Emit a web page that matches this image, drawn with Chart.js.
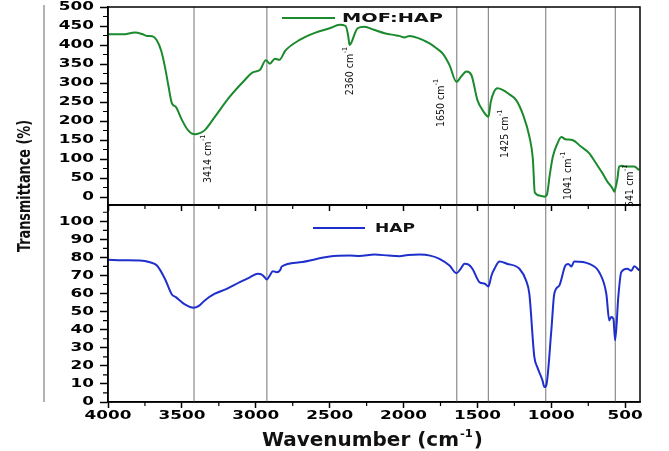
<!DOCTYPE html>
<html>
<head>
<meta charset="utf-8">
<script src="https://cdn.jsdelivr.net/npm/chart.js@4.4.0/dist/chart.umd.min.js"></script>
<style>
html, body { margin: 0; padding: 0; background: #fff; }
#wrap { position: relative; width: 669px; height: 451px; }
#wrap canvas { position: absolute; left: 0; top: 0; }
</style>
</head>
<body>
<div id="wrap">
<canvas id="topChart" width="669" height="451"></canvas>
<canvas id="botChart" width="669" height="451"></canvas>
</div>
<script>
// MOF:HAP spectrum (top panel)
const mofWn = [4000, 3900, 3818, 3770, 3736, 3700, 3669, 3640, 3615, 3590, 3568, 3541, 3500, 3459, 3412, 3380, 3345, 3277, 3176, 3074,
  3020, 2973, 2932, 2905, 2870, 2840, 2800, 2700, 2600, 2500, 2432, 2392, 2375, 2365, 2350, 2330, 2311, 2264, 2200, 2128,
  2060, 2030, 1993, 1960, 1900, 1824, 1780, 1736, 1689, 1642, 1610, 1574, 1541, 1500, 1466, 1440, 1426, 1410, 1390, 1365,
  1330, 1284, 1238, 1190, 1149, 1125, 1112, 1070, 1047, 1030, 1010, 990, 960, 932, 905, 858, 800, 743, 700, 655,
  620, 600, 585, 574, 565, 554, 541, 520, 500, 473, 440, 405];
const mofT = [428, 428, 433, 429, 424, 423, 412, 385, 343, 290, 247, 237, 203, 176, 165, 168, 176, 211, 264, 308,
  328, 334, 360, 351, 364, 361, 385, 414, 432, 444, 453, 450, 425, 400, 409, 430, 444, 448, 440, 431,
  426, 424, 420, 424, 418, 404, 392, 378, 347, 303, 317, 330, 321, 255, 229, 215, 211, 250, 275, 286,
  282, 270, 255, 215, 160, 100, 12, 3, 1, 6, 60, 106, 140, 158, 152, 150, 133, 115, 90, 63,
  40, 30, 22, 14, 25, 45, 80, 82, 80, 80, 80, 71];

// HAP spectrum (bottom panel)
const hapWn = [4000, 3900, 3784, 3716, 3669, 3615, 3568, 3541, 3480, 3419, 3380, 3345, 3277, 3200, 3108, 3040, 2986, 2960, 2940, 2926,
  2905, 2885, 2858, 2835, 2824, 2703, 2500, 2365, 2300, 2196, 2100, 2027, 1970, 1892, 1820, 1757, 1689, 1642, 1615, 1588,
  1560, 1534, 1486, 1450, 1426, 1405, 1385, 1351, 1300, 1216, 1170, 1149, 1115, 1095, 1060, 1047, 1035, 1000, 980, 946,
  905, 885, 865, 845, 743, 676, 628, 608, 595, 580, 568, 547, 527, 486, 459, 439, 405];
const hapT = [78.7, 78.4, 78.3, 77.3, 75.5, 68.2, 59.5, 58, 54, 52.1, 53.5, 56.2, 59.9, 62.5, 66.3, 69, 70.9, 70.5, 69, 67.8,
  70, 72.4, 71.8, 73, 75, 77.3, 80.5, 81, 80.8, 81.6, 81, 80.7, 81.3, 81.6, 81, 79.2, 75.5, 71.3, 73.5, 76.5,
  76, 73.7, 66.3, 65.4, 63.9, 70, 73.7, 77.7, 76.5, 73.7, 67, 59.9, 24.9, 19.3, 12, 8.3, 9, 39.6, 59.9, 64.5,
  75.5, 76.4, 75, 77.7, 76.4, 71.8, 59.9, 45.1, 47, 46, 34.1, 58, 71.8, 73.7, 72.6, 75.1, 72.8];

// tick labels
const xTickVals = [4000, 3500, 3000, 2500, 2000, 1500, 1000, 500];
const yTopTicks = [0, 50, 100, 150, 200, 250, 300, 350, 400, 450, 500];
const yBotTicks = [0, 10, 20, 30, 40, 50, 60, 70, 80, 90, 100];

// reference lines and peak labels
const peakLines = [3418, 2925, 1640, 1426, 1038, 567];
const peakNames = ['3414', '2360', '1650', '1425', '1041', '541'];
const peakSpots = [[3323, 37], [2363, 268], [1747, 184], [1314, 103], [888, -8], [468, -26]];

const GREEN = '#1a8a2c';
const BLUE = '#1e2fcc';
const SX = 1.35;
const LABEL_FONT = 'bold 12.5px "DejaVu Sans"';

function pts(xs, ys) {
  return xs.map((x, i) => ({x: x, y: ys[i]}));
}

function wideText(ctx, text, x, y, sx) {
  ctx.save();
  ctx.translate(x, y);
  ctx.scale(sx, 1);
  ctx.fillText(text, 0, 0);
  ctx.restore();
}

function fitText(ctx, text, x, y, width) {
  const w = ctx.measureText(text).width;
  wideText(ctx, text, x, y, width / w);
}

function makeFrame(cfg) {
  return {
    id: 'frame',
    beforeDatasetsDraw(chart) {
      const ctx = chart.ctx, a = chart.chartArea, x = chart.scales.x;
      ctx.save();
      ctx.strokeStyle = '#8c8c8c';
      ctx.lineWidth = 1.2;
      peakLines.forEach(w => {
        const px = x.getPixelForValue(w);
        ctx.beginPath();
        ctx.moveTo(px, a.top);
        ctx.lineTo(px, a.bottom);
        ctx.stroke();
      });
      ctx.restore();
    },
    afterDraw(chart) {
      const ctx = chart.ctx, a = chart.chartArea, x = chart.scales.x, y = chart.scales.y;
      ctx.save();
      ctx.strokeStyle = '#000';
      ctx.lineWidth = 1.5;
      ctx.strokeRect(a.left, a.top, a.right - a.left, a.bottom - a.top);

      // minor ticks
      ctx.lineWidth = 1.2;
      ctx.beginPath();
      for (let v = 750; v < 4000; v += 500) {
        const px = x.getPixelForValue(v);
        ctx.moveTo(px, a.bottom);
        ctx.lineTo(px, a.bottom + 4);
      }
      for (let v = cfg.yMinor[0]; v < cfg.yMinor[1]; v += cfg.yMinor[2]) {
        const py = y.getPixelForValue(v);
        ctx.moveTo(a.left, py);
        ctx.lineTo(a.left - 5, py);
      }
      ctx.stroke();

      // tick labels
      ctx.fillStyle = '#000';
      ctx.font = LABEL_FONT;
      ctx.textBaseline = 'middle';
      y.ticks.forEach(t => {
        const txt = String(t.value);
        const w = ctx.measureText(txt).width * SX;
        wideText(ctx, txt, a.left - 14 - w, y.getPixelForValue(t.value), SX);
      });
      if (cfg.xLabels) {
        x.ticks.forEach(t => {
          const txt = String(t.value);
          const w = ctx.measureText(txt).width * SX;
          wideText(ctx, txt, x.getPixelForValue(t.value) - w / 2, a.bottom + 14, SX);
        });
      }
      if (cfg.extra) cfg.extra(chart);
      ctx.restore();
    }
  };
}

function baseScales(yMin, yMax, yTicks, xHeight) {
  return {
    x: {
      type: 'linear', min: 400, max: 4000, reverse: true,
      ticks: {display: false},
      afterBuildTicks: s => { s.ticks = xTickVals.map(v => ({value: v})); },
      grid: {drawOnChartArea: false, tickLength: 6, tickColor: '#000', tickWidth: 1.5},
      border: {display: true, color: '#000', width: 1.5},
      afterFit: s => { s.height = xHeight; }
    },
    y: {
      min: yMin, max: yMax,
      ticks: {display: false},
      afterBuildTicks: s => { s.ticks = yTicks.map(v => ({value: v})); },
      grid: {drawOnChartArea: false, tickLength: 8, tickColor: '#000', tickWidth: 1.5},
      border: {display: true, color: '#000', width: 1.5},
      afterFit: s => { s.width = 108; }
    }
  };
}

function drawPeaks(chart) {
  const ctx = chart.ctx, x = chart.scales.x, y = chart.scales.y;
  ctx.fillStyle = '#111';
  peakNames.forEach((name, i) => {
    const px = x.getPixelForValue(peakSpots[i][0]);
    const py = y.getPixelForValue(peakSpots[i][1]);
    ctx.save();
    ctx.translate(px, py);
    ctx.rotate(-Math.PI / 2);
    ctx.textBaseline = 'middle';
    ctx.font = '10.5px "Liberation Sans Narrow", "DejaVu Sans Condensed", sans-serif';
    const txt = name + ' cm';
    ctx.fillText(txt, 0, 0);
    const w = ctx.measureText(txt).width;
    ctx.font = '7px "Liberation Sans Narrow", "DejaVu Sans Condensed", sans-serif';
    ctx.fillText('-1', w + 0.5, -5);
    ctx.restore();
  });

  // legend
  ctx.strokeStyle = GREEN;
  ctx.lineWidth = 2;
  ctx.beginPath();
  ctx.moveTo(282, 18);
  ctx.lineTo(335, 18);
  ctx.stroke();
  ctx.fillStyle = '#111';
  ctx.font = 'bold 13px "DejaVu Sans"';
  ctx.textBaseline = 'middle';
  fitText(ctx, 'MOF:HAP', 342, 18.5, 101);
}

function drawBottomExtras(chart) {
  const ctx = chart.ctx;
  // legend
  ctx.strokeStyle = BLUE;
  ctx.lineWidth = 2;
  ctx.beginPath();
  ctx.moveTo(313, 228);
  ctx.lineTo(365, 228);
  ctx.stroke();
  ctx.fillStyle = '#111';
  ctx.font = 'bold 13px "DejaVu Sans"';
  ctx.textBaseline = 'middle';
  fitText(ctx, 'HAP', 375, 228.5, 40);

  // bracket line left of the axes
  ctx.strokeStyle = '#9a9a9a';
  ctx.lineWidth = 1.5;
  ctx.beginPath();
  ctx.moveTo(44, 5);
  ctx.lineTo(44, 402);
  ctx.stroke();

  // y title
  ctx.save();
  ctx.translate(30, 186);
  ctx.rotate(-Math.PI / 2);
  ctx.fillStyle = '#111';
  ctx.font = 'bold 18px "Liberation Sans Narrow", "DejaVu Sans Condensed", sans-serif';
  ctx.textBaseline = 'alphabetic';
  fitText(ctx, 'Transmittance (%)', -66, 0, 132);
  ctx.restore();

  // x title
  ctx.font = 'bold 19px "DejaVu Sans"';
  ctx.textBaseline = 'alphabetic';
  const p1 = 'Wavenumber (cm', p3 = ')';
  const w1 = ctx.measureText(p1).width, w3 = ctx.measureText(p3).width;
  ctx.font = 'bold 11px "DejaVu Sans"';
  const w2 = ctx.measureText('-1').width;
  const k = 221 / (w1 + w2 + w3 + 2);
  let cx = 262;
  ctx.font = 'bold 19px "DejaVu Sans"';
  wideText(ctx, p1, cx, 446, k);
  cx += w1 * k + 1;
  ctx.font = 'bold 11px "DejaVu Sans"';
  wideText(ctx, '-1', cx, 437, k);
  cx += w2 * k + 1;
  ctx.font = 'bold 19px "DejaVu Sans"';
  wideText(ctx, p3, cx, 446, k);
}

new Chart(document.getElementById('topChart').getContext('2d'), {
  type: 'line',
  data: {
    datasets: [{
      label: 'MOF:HAP',
      data: pts(mofWn, mofT),
      borderColor: GREEN,
      borderWidth: 2,
      pointRadius: 0,
      cubicInterpolationMode: 'monotone'
    }]
  },
  options: {
    responsive: false,
    animation: false,
    devicePixelRatio: 1,
    layout: {padding: {left: 0, right: 29, top: 7, bottom: 236}},
    plugins: {legend: {display: false}, tooltip: {enabled: false}},
    scales: baseScales(-21, 500, yTopTicks, 10)
  },
  plugins: [makeFrame({yMinor: [25, 500, 50], xLabels: false, extra: drawPeaks})]
});

new Chart(document.getElementById('botChart').getContext('2d'), {
  type: 'line',
  data: {
    datasets: [{
      label: 'HAP',
      data: pts(hapWn, hapT),
      borderColor: BLUE,
      borderWidth: 2,
      pointRadius: 0,
      cubicInterpolationMode: 'monotone'
    }]
  },
  options: {
    responsive: false,
    animation: false,
    devicePixelRatio: 1,
    layout: {padding: {left: 0, right: 29, top: 205, bottom: 0}},
    plugins: {legend: {display: false}, tooltip: {enabled: false}},
    scales: baseScales(0, 109, yBotTicks, 49)
  },
  plugins: [makeFrame({yMinor: [5, 109, 10], xLabels: true, extra: drawBottomExtras})]
});
</script>
</body>
</html>
